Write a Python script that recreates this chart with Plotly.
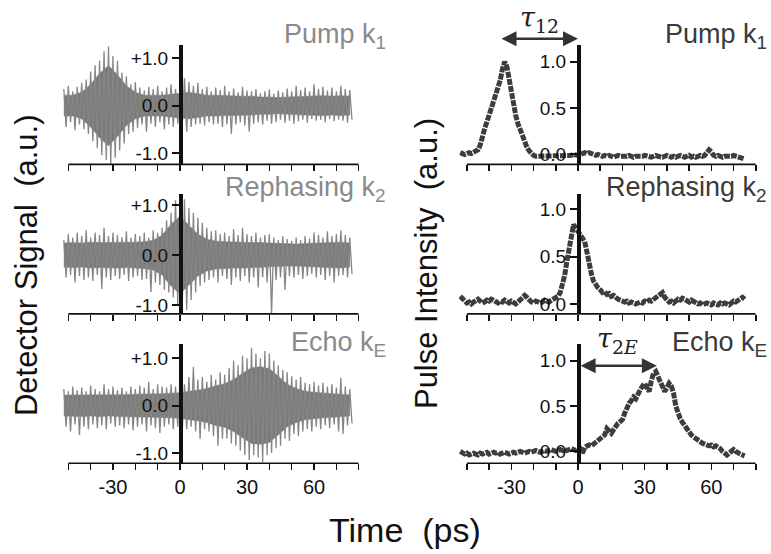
import plotly.graph_objects as go

# ---------------- data ----------------
# detector signal: extreme excursions per 2 ps bin (upper / lower), time in ps
t_signal = list(range(-52, 77, 2))

pump_sig_upper = [0.35, 0.42, 0.30, 0.40, 0.48, 0.55, 0.72, 0.85, 0.95, 1.15,
                  1.25, 1.05, 0.95, 0.70, 0.62, 0.45, 0.50, 0.38, 0.32, 0.40,
                  0.35, 0.42, 0.30, 0.38, 0.45, 0.35, 0.40, 0.58, 0.50, 0.42,
                  0.48, 0.35, 0.40, 0.30, 0.38, 0.33, 0.42, 0.30, 0.36, 0.28,
                  0.40, 0.32, 0.30, 0.35, 0.26, 0.30, 0.34, 0.25, 0.32, 0.28,
                  0.36, 0.30, 0.42, 0.33, 0.38, 0.30, 0.45, 0.35, 0.40, 0.32,
                  0.38, 0.30, 0.42, 0.35, 0.33]
pump_sig_lower = [-0.45, -0.35, -0.52, -0.40, -0.50, -0.60, -0.75, -0.90, -1.05, -1.15,
                  -1.24, -1.10, -0.95, -0.80, -0.60, -0.55, -0.48, -0.40, -0.55, -0.38,
                  -0.45, -0.35, -0.50, -0.40, -0.45, -0.38, -0.42, -0.55, -0.45, -0.40,
                  -0.38, -0.42, -0.35, -0.40, -0.38, -0.45, -0.40, -0.60, -0.40, -0.35,
                  -0.42, -0.55, -0.38, -0.35, -0.40, -0.32, -0.38, -0.35, -0.30, -0.36,
                  -0.32, -0.38, -0.33, -0.30, -0.36, -0.28, -0.32, -0.30, -0.35, -0.28,
                  -0.33, -0.30, -0.32, -0.36, -0.30]

reph_sig_upper = [0.30, 0.42, 0.35, 0.45, 0.38, 0.50, 0.35, 0.45, 0.40, 0.55,
                  0.38, 0.45, 0.40, 0.36, 0.48, 0.35, 0.42, 0.38, 0.45, 0.35,
                  0.50, 0.45, 0.55, 0.70, 0.85, 1.10, 1.05, 1.12, 0.95, 0.85,
                  0.75, 0.65, 0.55, 0.48, 0.50, 0.42, 0.45, 0.38, 0.52, 0.40,
                  0.55, 0.42, 0.38, 0.45, 0.35, 0.40, 0.42, 0.35, 0.30, 0.38,
                  0.32, 0.28, 0.35, 0.30, 0.38, 0.33, 0.45, 0.40, 0.35, 0.48,
                  0.38, 0.42, 0.50, 0.40, 0.35]
reph_sig_lower = [-0.45, -0.40, -0.55, -0.42, -0.50, -0.45, -0.52, -0.40, -0.68, -0.45,
                  -0.50, -0.42, -0.48, -0.40, -0.52, -0.45, -0.42, -0.50, -0.48, -0.74,
                  -0.55, -0.60, -0.70, -0.75, -0.85, -1.00, -1.05, -1.10, -0.90, -0.75,
                  -0.62, -0.55, -0.50, -0.45, -0.55, -0.42, -0.48, -0.60, -0.45, -0.52,
                  -0.42, -0.55, -0.45, -0.65, -0.45, -0.55, -1.18, -0.50, -0.45, -0.70,
                  -0.42, -0.45, -0.40, -0.48, -0.42, -0.38, -0.45, -0.40, -0.50, -0.42,
                  -0.55, -0.42, -0.40, -0.45, -0.38]

echo_sig_upper = [0.35, 0.30, 0.40, 0.32, 0.38, 0.30, 0.42, 0.35, 0.30, 0.45,
                  0.35, 0.40, 0.32, 0.38, 0.30, 0.40, 0.35, 0.42, 0.38, 0.50,
                  0.35, 0.45, 0.40, 0.38, 0.45, 0.40, 0.55, 0.45, 0.60, 0.82,
                  0.55, 0.60, 0.50, 0.65, 0.55, 0.70, 0.65, 0.80, 0.95, 0.85,
                  1.05, 1.00, 1.22, 1.10, 1.00, 1.15, 1.10, 0.95, 0.85, 0.75,
                  0.70, 0.62, 0.55, 0.60, 0.48, 0.45, 0.50, 0.42, 0.48, 0.40,
                  0.45, 0.38, 0.58, 0.40, 0.35]
echo_sig_lower = [-0.45, -0.55, -0.40, -0.62, -0.45, -0.50, -0.40, -0.48, -0.42, -0.50,
                  -0.38, -0.45, -0.42, -0.48, -0.40, -0.52, -0.45, -0.40, -0.55, -0.42,
                  -0.48, -0.58, -0.45, -0.40, -0.50, -0.45, -0.55, -0.50, -0.45, -0.55,
                  -0.70, -0.50, -0.55, -0.65, -0.85, -0.70, -0.70, -0.80, -0.85, -0.95,
                  -1.05, -1.15, -1.05, -1.10, -1.20, -1.05, -1.00, -0.90, -0.85, -0.70,
                  -0.75, -0.60, -0.65, -0.55, -0.50, -0.55, -0.45, -0.50, -0.42, -0.48,
                  -0.40, -0.55, -0.60, -0.42, -0.38]

# dense core amplitude of the detector signal, 4 ps steps
t_core = list(range(-52, 77, 4))
pump_core = [0.22, 0.22, 0.28, 0.45, 0.68, 0.85, 0.65, 0.42, 0.28, 0.22,
             0.22, 0.22, 0.24, 0.26, 0.28, 0.25, 0.22, 0.22, 0.21, 0.20,
             0.20, 0.20, 0.18, 0.18, 0.17, 0.18, 0.19, 0.20, 0.21, 0.21,
             0.20, 0.21, 0.20]
reph_core = [0.24, 0.25, 0.24, 0.26, 0.25, 0.25, 0.26, 0.25, 0.26, 0.27,
             0.30, 0.40, 0.62, 0.78, 0.60, 0.42, 0.32, 0.28, 0.27, 0.26,
             0.26, 0.25, 0.25, 0.24, 0.23, 0.22, 0.22, 0.23, 0.24, 0.25,
             0.25, 0.26, 0.24]
echo_core = [0.22, 0.22, 0.23, 0.22, 0.23, 0.22, 0.23, 0.23, 0.24, 0.24,
             0.24, 0.25, 0.26, 0.27, 0.30, 0.32, 0.36, 0.42, 0.46, 0.55,
             0.68, 0.80, 0.82, 0.78, 0.62, 0.45, 0.36, 0.30, 0.28, 0.26,
             0.25, 0.24, 0.22]

# pulse intensities, 1 ps steps
t_pulse = list(range(-53, 76))

pump_int = [0.02, 0.01, 0.00, 0.01, 0.02, 0.01, 0.02, 0.03, 0.05, 0.10,
            0.22, 0.28, 0.35, 0.42, 0.48, 0.55, 0.62, 0.70, 0.80, 0.92,
            1.00, 0.95, 0.80, 0.66, 0.55, 0.42, 0.33, 0.26, 0.18, 0.12,
            0.08, 0.04, 0.01, -0.01, -0.02, -0.02, -0.01, -0.02, -0.01, -0.02,
            -0.02, -0.01, -0.02, -0.01, -0.02, -0.01, -0.01, -0.02, -0.01, -0.02,
            -0.01, 0.00, -0.01, -0.01, 0.00, 0.01, 0.02, 0.01, 0.02, 0.01,
            0.00, -0.01, 0.00, -0.01, -0.02, -0.01, -0.02, -0.01, -0.02, -0.03,
            -0.02, -0.01, -0.02, -0.02, -0.03, -0.02, -0.01, -0.02, -0.03, -0.02,
            -0.02, -0.03, -0.02, -0.01, -0.02, -0.03, -0.03, -0.02, -0.01, -0.02,
            -0.03, -0.03, -0.02, -0.01, -0.02, -0.03, -0.02, -0.03, -0.02, -0.01,
            -0.02, -0.03, -0.02, -0.01, -0.03, -0.02, -0.03, -0.02, -0.01, -0.02,
            -0.01, 0.02, 0.05, 0.03, -0.01, -0.02, -0.01, -0.02, -0.03, -0.02,
            -0.02, -0.03, -0.02, -0.01, -0.02, -0.03, -0.03, -0.04, -0.05]

reph_int = [0.08, 0.06, 0.03, 0.01, 0.02, 0.00, 0.02, 0.04, 0.05, 0.03,
            0.01, 0.02, 0.04, 0.03, 0.05, 0.04, 0.02, 0.01, 0.03, 0.02,
            0.04, 0.03, 0.01, 0.03, 0.02, 0.00, 0.02, 0.04, 0.06, 0.09,
            0.07, 0.04, 0.02, 0.01, 0.03, 0.02, 0.01, 0.02, 0.04, 0.03,
            0.02, 0.04, 0.05, 0.06, 0.08, 0.12, 0.19, 0.30, 0.45, 0.58,
            0.72, 0.84, 0.80, 0.76, 0.72, 0.70, 0.66, 0.55, 0.42, 0.32,
            0.24, 0.20, 0.17, 0.15, 0.12, 0.13, 0.10, 0.11, 0.08, 0.09,
            0.06, 0.05, 0.04, 0.03, 0.02, 0.03, 0.01, 0.02, 0.01, 0.00,
            0.01, 0.02, 0.01, 0.03, 0.02, 0.04, 0.03, 0.05, 0.06, 0.08,
            0.11, 0.12, 0.07, 0.04, 0.02, 0.03, 0.01, 0.03, 0.05, 0.04,
            0.06, 0.05, 0.03, 0.02, 0.04, 0.03, 0.01, 0.00, 0.01, -0.01,
            0.00, 0.01, 0.00, -0.01, 0.01, 0.00, -0.01, 0.01, 0.00, 0.01,
            0.00, -0.01, 0.01, 0.03, 0.02, 0.04, 0.06, 0.07, 0.05]

echo_int = [0.00, -0.02, -0.03, -0.02, -0.04, -0.03, -0.02, -0.03, -0.04, -0.02,
            -0.03, -0.02, -0.01, -0.03, -0.02, -0.01, -0.02, -0.01, -0.03, -0.02,
            -0.01, -0.02, -0.03, -0.02, -0.01, -0.02, -0.01, 0.00, -0.01, -0.02,
            -0.01, 0.00, -0.01, 0.00, 0.01, 0.00, -0.01, 0.00, 0.01, 0.00,
            0.01, 0.02, 0.01, 0.00, 0.01, 0.02, 0.01, 0.02, 0.01, 0.02,
            0.03, 0.02, 0.01, 0.02, 0.03, -0.02, 0.04, 0.06, 0.07, 0.06,
            0.08, 0.10, 0.13, 0.15, 0.16, 0.18, 0.25, 0.22, 0.20, 0.24,
            0.28, 0.31, 0.33, 0.35, 0.42, 0.48, 0.53, 0.56, 0.60, 0.58,
            0.64, 0.68, 0.72, 0.75, 0.70, 0.66, 0.78, 0.86, 0.88, 0.82,
            0.78, 0.72, 0.66, 0.70, 0.75, 0.72, 0.64, 0.50, 0.42, 0.36,
            0.32, 0.28, 0.24, 0.22, 0.18, 0.16, 0.14, 0.12, 0.10, 0.09,
            0.08, 0.07, 0.06, 0.07, 0.05, 0.06, 0.05, 0.03, 0.00, -0.03,
            -0.04, -0.02, 0.01, 0.02, 0.00, -0.02, -0.03, -0.04, -0.05]

panel_titles = ["Pump k<sub>1</sub>", "Rephasing k<sub>2</sub>", "Echo k<sub>E</sub>"]
x_tick_vals = [-30, 0, 30, 60]
x_tick_text = ["-30", "0", "30", "60"]
sig_tick_vals = [-1.0, 0.0, 1.0]
sig_tick_text = ["-1.0", "0.0", "+1.0"]
int_tick_vals = [0.0, 0.5, 1.0]
int_tick_text = ["0.0", "0.5", "1.0"]
tau_2e = [0.5, 35.5]

for a in (pump_sig_upper, pump_sig_lower, reph_sig_upper, reph_sig_lower, echo_sig_upper, echo_sig_lower):
    assert len(a) == len(t_signal)
for a in (pump_core, reph_core, echo_core):
    assert len(a) == len(t_core)
for a in (pump_int, reph_int, echo_int):
    assert len(a) == len(t_pulse)

# ---------------- figure ----------------
W, H = 771, 554
FONT = "Liberation Sans, Arial, sans-serif"
SIG_COL = "#858585"
INT_COL = "#3d3d3d"
AX_COL = "#111111"

fig = go.Figure()

signals = [(pump_sig_upper, pump_sig_lower), (reph_sig_upper, reph_sig_lower), (echo_sig_upper, echo_sig_lower)]
cores = [pump_core, reph_core, echo_core]
intens = [pump_int, reph_int, echo_int]

rows_px = [(45, 165), (195, 315), (345, 465)]
left_dom = [61.6 / W, 358.7 / W]
right_dom = [459.1 / W, 755.8 / W]
left_xr = [-53, 80]
right_xr = [-53.5, 80]
left_yr = [[-1.242, 1.284], [-1.18, 1.22], [-1.221, 1.305]]
right_yr = [[-0.1075, 1.183], [-0.105, 1.158], [-0.132, 1.187]]
y0_left = 180 / W
y0_right = 578 / W

layout = dict(width=W, height=H, margin=dict(l=0, r=0, t=0, b=0),
              paper_bgcolor="white", plot_bgcolor="rgba(0,0,0,0)", showlegend=False,
              font=dict(family=FONT, color=AX_COL))
shapes = []
annotations = []

for r in range(3):
    top, bot = rows_px[r]
    ydom = [1 - bot / H, 1 - top / H]
    for c in range(2):
        idx = r * 2 + c + 1
        xname = "xaxis" if idx == 1 else f"xaxis{idx}"
        yname = "yaxis" if idx == 1 else f"yaxis{idx}"
        xref = "x" if idx == 1 else f"x{idx}"
        yref = "y" if idx == 1 else f"y{idx}"
        bottom = (r == 2)
        layout[xname] = dict(
            domain=left_dom if c == 0 else right_dom,
            range=left_xr if c == 0 else right_xr,
            anchor=yref, showgrid=False, zeroline=False, showline=False,
            ticks="outside", ticklen=6, tickwidth=1.5, tickcolor=AX_COL,
            tickvals=x_tick_vals, ticktext=x_tick_text,
            showticklabels=bottom, tickfont=dict(size=20, family=FONT, color=AX_COL),
            minor=dict(dtick=10, tick0=0, ticks="outside", ticklen=6, tickwidth=1.5, tickcolor=AX_COL),
        )
        layout[yname] = dict(
            domain=ydom, range=left_yr[r] if c == 0 else right_yr[r],
            anchor="free", position=y0_left if c == 0 else y0_right,
            showgrid=False, zeroline=False, showline=True, linewidth=3.5, linecolor=AX_COL,
            ticks="outside", ticklen=7, tickwidth=2, tickcolor=AX_COL,
            tickvals=sig_tick_vals if c == 0 else int_tick_vals,
            ticktext=sig_tick_text if c == 0 else int_tick_text,
            tickfont=dict(size=19, family=FONT, color=AX_COL),
        )
        shapes.append(dict(type="line", xref=xref, yref=f"{yref} domain", x0=-50, x1=80, y0=0, y1=0,
                           line=dict(color=AX_COL, width=1.6), layer="above"))
        if c == 0:
            up, lo = signals[r]
            core = cores[r]
            fig.add_trace(go.Scatter(
                x=t_core + t_core[::-1], y=core + [-v for v in core[::-1]],
                xaxis=xref, yaxis=yref, mode="lines", fill="toself", fillcolor="#7a7a7a",
                line=dict(color="#7a7a7a", width=0.5), hoverinfo="skip"))
            zx, zy = [], []
            for t, u, l in zip(t_signal, up, lo):
                zx += [t, t + 1]
                zy += [u, l]
            fig.add_trace(go.Scatter(
                x=zx, y=zy, xaxis=xref, yaxis=yref, mode="lines",
                line=dict(color=SIG_COL, width=1.3), hoverinfo="skip"))
        else:
            fig.add_trace(go.Scatter(
                x=t_pulse, y=intens[r], xaxis=xref, yaxis=yref, mode="lines",
                line=dict(color=INT_COL, width=5, dash="6px,1.2px"), hoverinfo="skip"))

# panel titles
title_y_px = [36, 190, 345]
for r in range(3):
    for c, (xr, col) in enumerate([(388, "#8a8a8a"), (769, "#3a3a3a")]):
        annotations.append(dict(text=panel_titles[r], xref="paper", yref="paper",
                                x=xr / W, y=1 - title_y_px[r] / H, xanchor="right", yanchor="middle",
                                showarrow=False, font=dict(size=27, family=FONT, color=col)))

# axis titles
annotations.append(dict(text="Detector Signal  (a.u.)", xref="paper", yref="paper",
                        x=26 / W, y=1 - 266 / H, textangle=-90, showarrow=False,
                        xanchor="center", yanchor="middle", font=dict(size=31, family=FONT, color=AX_COL)))
annotations.append(dict(text="Pulse Intensity  (a.u.)", xref="paper", yref="paper",
                        x=426 / W, y=1 - 265 / H, textangle=-90, showarrow=False,
                        xanchor="center", yanchor="middle", font=dict(size=31, family=FONT, color=AX_COL)))
annotations.append(dict(text="Time  (ps)", xref="paper", yref="paper",
                        x=405 / W, y=1 - 532 / H, showarrow=False,
                        xanchor="center", yanchor="middle", font=dict(size=34, family=FONT, color=AX_COL)))

# tau_12 arrow (above the top-right panel)
annotations.append(dict(x=578 / W, y=1 - 39 / H, xref="paper", yref="paper",
                        ax=-78, ay=0, text="", showarrow=True, arrowhead=2,
                        arrowside="end+start", arrowsize=1.2, arrowwidth=2.5, arrowcolor="#333333",
                        standoff=0, startstandoff=0))
annotations.append(dict(text="<i>τ</i><sub>12</sub>", xref="paper", yref="paper",
                        x=539 / W, y=1 - 20 / H, showarrow=False, xanchor="center", yanchor="middle",
                        font=dict(size=27, family="DejaVu Serif, serif", color="#222222")))
annotations.append(dict(x=tau_2e[1], y=0.945, ax=tau_2e[0], ay=0.945, xref="x6", yref="y6",
                        axref="x6", ayref="y6", text="", showarrow=True, arrowhead=2,
                        arrowside="end+start", arrowsize=1.2, arrowwidth=2.5, arrowcolor="#333333",
                        standoff=0, startstandoff=0))
annotations.append(dict(text="<i>τ</i><sub>2<i>E</i></sub>", xref="paper", yref="paper",
                        x=617 / W, y=1 - 342 / H, showarrow=False, xanchor="center", yanchor="middle",
                        font=dict(size=27, family="DejaVu Serif, serif", color="#222222")))

layout["shapes"] = shapes
layout["annotations"] = annotations
fig.update_layout(**layout)
fig.write_html("out.html", config={"displayModeBar": False, "staticPlot": True},
               post_script="document.body.style.margin='0';document.body.style.padding='0';document.body.style.overflow='hidden';")
